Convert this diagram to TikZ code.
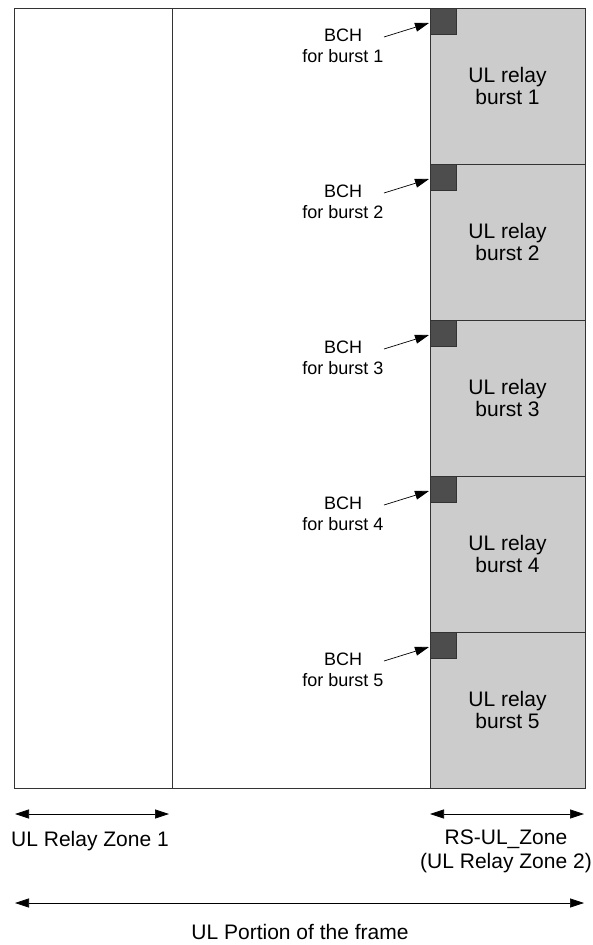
\documentclass[tikz,border=0pt]{standalone}
\usepackage{fontspec}
\setmainfont{Liberation Sans}
\usepackage{tikz}
\usetikzlibrary{positioning, arrows.meta, calc}
\definecolor{relaygray}{RGB}{204,204,204}
\definecolor{bchgray}{RGB}{77,77,77}
\tikzset{
	frm/.style={draw=black!80, line width=0.7pt},
	zone/.style={frm, anchor=north west, minimum height=780pt, inner sep=0pt, outer sep=0pt},
	burst/.style={frm, fill=relaygray, anchor=north west, minimum width=155pt, minimum height=156pt, inner sep=0pt, outer sep=0pt, align=center, font=\fontsize{21}{22}\selectfont},
	bch/.style={frm, fill=bchgray, anchor=north west, minimum size=26pt, inner sep=0pt, outer sep=0pt},
	bchlbl/.style={align=center, inner sep=0pt, font=\fontsize{18}{21}\selectfont},
	zonelbl/.style={align=center, inner sep=0pt, font=\fontsize{21}{24}\selectfont},
	ptr/.style={-{Triangle[length=14pt,width=9pt]}, line width=0.7pt},
	dimarr/.style={{Triangle[length=14pt,width=9pt]}-{Triangle[length=14pt,width=9pt]}, line width=0.7pt},
}
\begin{document}
\begin{tikzpicture}[x=1pt,y=-1pt]
	\useasboundingbox (0,0) rectangle (593,945);
	
	% zones of the frame
	\node[zone, minimum width=158pt] (zone1) at (14,8) {};
	\node[zone, minimum width=258pt, right=0pt of zone1] (zonemid) {};
	
	% relay bursts with their BCH
	\foreach \i in {1,...,5}{
		\node[burst] (burst\i) at (430,{8+(\i-1)*156}) {UL relay\\burst \i};
		\node[bch] (bch\i) at (burst\i.north west) {};
		\node[bchlbl] (bchlbl\i) at (343,{8+(\i-1)*156+38}) {BCH\\for burst \i};
		\coordinate (bchtail\i) at (384,{8+(\i-1)*156+29});
		\draw[ptr] (bchtail\i) -- ($(bch\i.west)+(-1,2)$);
	}
	
	% dimension arrows
	\draw[dimarr] ($(zone1.south west)+(1,26)$) -- ($(zone1.south east)+(-3,26)$);
	\draw[dimarr] ($(burst5.south west)+(0,26)$) -- ($(burst5.south east)+(-1,26)$);
	\draw[dimarr] ($(zone1.south west)+(1,115)$) -- ($(burst5.south east)+(-1,115)$);
	
	\node[zonelbl] (zone1lbl) at (90,841) {UL Relay Zone 1};
	\node[zonelbl] (rszonelbl) at (506,851) {RS-UL\_Zone\\(UL Relay Zone 2)};
	\node[zonelbl] (ulportionlbl) at (300,932) {UL Portion of the frame};
\end{tikzpicture}
\end{document}
